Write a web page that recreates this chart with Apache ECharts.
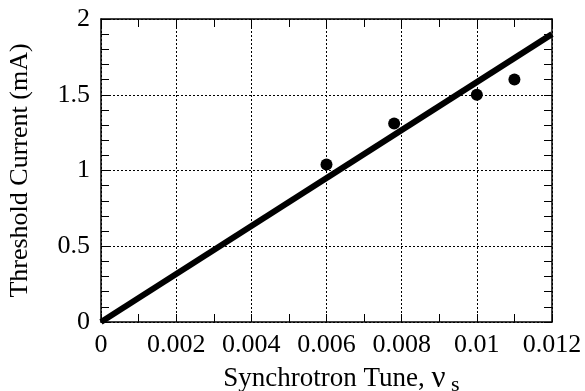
<!DOCTYPE html>
<html>
<head>
<meta charset="utf-8">
<script src="https://cdn.jsdelivr.net/npm/echarts@6/dist/echarts.min.js"></script>
<style>
  html, body { margin: 0; padding: 0; background: #fff; }
  #main { width: 585px; height: 391px; }
</style>
</head>
<body>
<div id="main"></div>
<script>
// measured points
var tuneData = [0.006, 0.0078, 0.010, 0.011];
var currentData = [1.04, 1.31, 1.50, 1.60];
// theory line end points
var lineX = [0, 0.012];
var lineY = [0, 1.9];

var fontFam = 'Liberation Serif';

var myChart = echarts.init(document.getElementById('main'));

var pts = tuneData.map(function (v, i) { return [v, currentData[i]]; });
var linePts = lineX.map(function (v, i) { return [v, lineY[i]]; });

var split = { show: true, lineStyle: { color: '#000', width: 1, type: [2, 2] } };
var axLine = { show: true, onZero: false, lineStyle: { color: '#000', width: 1.5 } };
var tick = { inside: true, length: 8, lineStyle: { color: '#000' } };

var option = {
  animation: false,
  backgroundColor: '#fff',
  grid: { left: 101, right: 33, top: 19, bottom: 69, containLabel: false, outerBoundsMode: 'none' },
  xAxis: [
    {
      type: 'value', min: 0, max: 0.012, interval: 0.002,
      name: '{a|Synchrotron Tune, }{b|ν}{c| s}',
      nameLocation: 'middle', nameGap: 40,
      nameTextStyle: {
        padding: [0, 0, 0, 30],
        rich: {
          a: { fontFamily: fontFam, fontSize: 27, color: '#000' },
          b: { fontFamily: fontFam, fontSize: 31, color: '#000' },
          c: { fontFamily: fontFam, fontSize: 22, color: '#000', padding: [12, 0, 0, 0] }
        }
      },
      axisLine: axLine,
      axisTick: tick,
      minorTick: { show: true, splitNumber: 2, length: 8, lineStyle: { color: '#000' } },
      axisLabel: {
        margin: 10, color: '#000', fontFamily: fontFam, fontSize: 26,
        formatter: function (v) { return String(+v.toFixed(3)); }
      },
      splitLine: split
    },
    {
      type: 'value', min: 0, max: 0.012, interval: 0.002, position: 'top',
      axisLine: axLine,
      axisTick: tick,
      minorTick: { show: true, splitNumber: 2, length: 8, lineStyle: { color: '#000' } },
      axisLabel: { show: false },
      splitLine: { show: false }
    }
  ],
  yAxis: [
    {
      type: 'value', min: 0, max: 2, interval: 0.5,
      name: 'Threshold Current (mA)',
      nameLocation: 'middle', nameGap: 68,
      nameTextStyle: { fontFamily: fontFam, fontSize: 26, color: '#000' },
      axisLine: axLine,
      axisTick: tick,
      minorTick: { show: true, splitNumber: 5, length: 8, lineStyle: { color: '#000' } },
      axisLabel: { margin: 11, color: '#000', fontFamily: fontFam, fontSize: 26 },
      splitLine: split
    },
    {
      type: 'value', min: 0, max: 2, interval: 0.5, position: 'right',
      axisLine: axLine,
      axisTick: tick,
      minorTick: { show: true, splitNumber: 5, length: 8, lineStyle: { color: '#000' } },
      axisLabel: { show: false },
      splitLine: { show: false }
    }
  ],
  series: [
    {
      type: 'line', data: linePts, showSymbol: false, symbol: 'none',
      lineStyle: { color: '#000', width: 6 }, z: 3
    },
    {
      type: 'scatter', data: pts, symbol: 'circle', symbolSize: 12,
      itemStyle: { color: '#000', opacity: 1 }, z: 4
    }
  ]
};
myChart.setOption(option);
</script>
</body>
</html>
